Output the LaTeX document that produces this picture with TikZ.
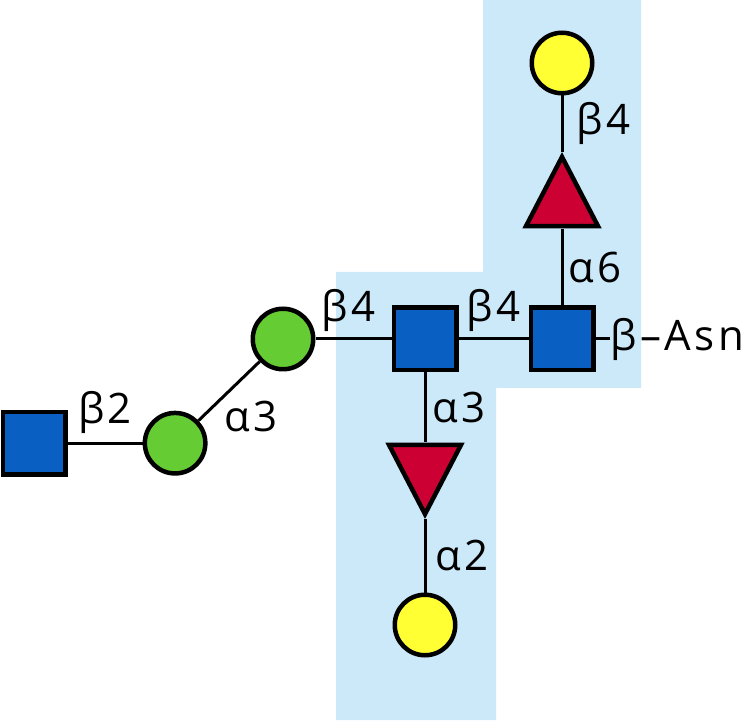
\documentclass[tikz,border=0pt]{standalone}
\usepackage{fontspec}
\setmainfont{Open Sans}[LetterSpace=8]
\usetikzlibrary{shapes.geometric,positioning}
\definecolor{hlblue}{RGB}{204,233,250}
\definecolor{glcblue}{RGB}{10,95,195}
\definecolor{galyellow}{RGB}{255,255,51}
\definecolor{fucred}{RGB}{204,0,51}
\definecolor{mangreen}{RGB}{102,204,51}
\begin{document}
\begin{tikzpicture}[x=1pt,y=1pt,sibling distance=0pt,
  sugar/.style={draw,line width=4.5pt,inner sep=0pt},
  glc/.style={sugar,rectangle,fill=glcblue,minimum size=62.5pt},
  gal/.style={sugar,circle,fill=galyellow,minimum size=60.5pt},
  man/.style={sugar,circle,fill=mangreen,minimum size=60.5pt},
  fuc/.style={sugar,regular polygon,regular polygon sides=3,fill=fucred,minimum size=83pt,yscale=1.11},
  lnktext/.style={font=\fontsize{42}{50}\selectfont,inner sep=1pt},
  lnk/.style={lnktext,midway},
  edge from parent/.style={draw,line width=3pt}]
\useasboundingbox (0,0) rectangle (754,720);
\fill[hlblue] (336,448) -- (483,448) -- (483,720) -- (641,720) -- (641,332)
  -- (496,332) -- (496,0) -- (336,0) -- cycle;
\node [glc] (root) at (562,381) {}
  child[grow=up,level distance=136pt] {node[fuc] (fuc1) {}
    child[level distance=140pt] {node[gal] (gal1) {}
      edge from parent node[lnk,right=12pt] {β4}}
    edge from parent node[lnk,right=4pt] {α6}}
  child[grow=left,level distance=137pt] {node[glc] (glc2) {}
    child[grow=down,level distance=129pt] {node[fuc,shape border rotate=180] (fuc2) {}
      child[level distance=157pt] {node[gal] (gal2) {}
        edge from parent node[lnk,right=8pt] {α2}}
      edge from parent node[lnk,right=5pt] {α3}}
    child[level distance=142pt] {node[man] (man1) {}
      child[grow=224.5,level distance=150pt] {node[man] (man2) {}
        child[grow=left,level distance=141pt] {node[glc] (glc3) {}
          edge from parent node[lnk,above=7pt] {β2}}
        edge from parent node[lnk,xshift=22pt,yshift=-25pt] {α3}}
      edge from parent node[lnk,above=5pt,xshift=-5pt] {β4}}
    edge from parent node[lnk,above=5pt] {β4}};
\node[lnktext,right=14pt of root] (asn) {β–Asn};
\draw[line width=3pt] (root) -- (asn);
\end{tikzpicture}
\end{document}
